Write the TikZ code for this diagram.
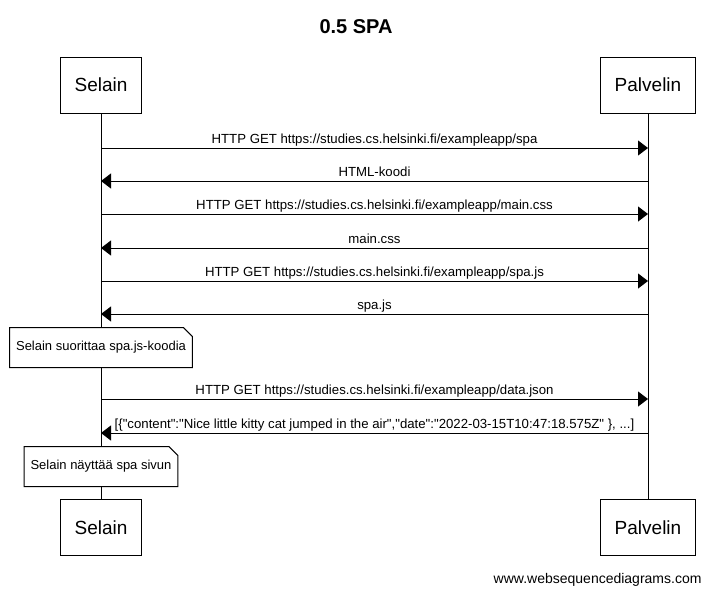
\documentclass[tikz,border=0pt]{standalone}
\usepackage{fontspec}
\setmainfont{Liberation Sans}[Ligatures=TeXOff]
\usetikzlibrary{arrows.meta}

\begin{document}
\begin{tikzpicture}[x=1pt,y=-1pt,line width=1pt,
   actor/.style={draw,fill=white,minimum height=56pt,inner xsep=14.5pt,font=\fontsize{19}{22}\selectfont},
   note/.style={fill=white,minimum height=39pt,inner xsep=6pt,font=\fontsize{13}{15}\selectfont},
   msg/.style={-{Triangle[length=10pt,width=15pt]}},
   lbl/.style={midway,anchor=base,yshift=5pt,inner sep=0pt,font=\fontsize{13.2}{15}\selectfont}]
   \useasboundingbox (0,0) rectangle (711,590);
   % Title
   \node[anchor=base,font=\fontsize{20}{24}\selectfont\bfseries] (title) at (356,33) {0.5 SPA};
   % Participants
   \node[actor] (selainTop)   at (101,85)    {Selain};
   \node[actor] (palvelinTop) at (648,85)    {Palvelin};
   \node[actor] (selainBot)   at (101,527.5) {Selain};
   \node[actor] (palvelinBot) at (648,527.5) {Palvelin};
   % Lifelines
   \draw (selainTop) -- (selainBot);
   \draw (palvelinTop) -- (palvelinBot);
   % Message ends
   \foreach \i/\y in {1/148,2/181,3/214,4/248,5/281,6/314,7/399,8/433} {
      \coordinate (s\i) at (101,\y);
      \coordinate (p\i) at (648,\y);
   }
   % Messages
   \draw[msg] (s1) -- node[lbl]{HTTP GET https://studies.cs.helsinki.fi/exampleapp/spa} (p1);
   \draw[msg] (p2) -- node[lbl]{HTML-koodi} (s2);
   \draw[msg] (s3) -- node[lbl]{HTTP GET https://studies.cs.helsinki.fi/exampleapp/main.css} (p3);
   \draw[msg] (p4) -- node[lbl]{main.css} (s4);
   \draw[msg] (s5) -- node[lbl]{HTTP GET https://studies.cs.helsinki.fi/exampleapp/spa.js} (p5);
   \draw[msg] (p6) -- node[lbl]{spa.js} (s6);
   \draw[msg] (s7) -- node[lbl]{HTTP GET https://studies.cs.helsinki.fi/exampleapp/data.json} (p7);
   \draw[msg] (p8) -- node[lbl]{[\{"content":"Nice little kitty cat jumped in the air","date":"2022-03-15T10:47:18.575Z" \}, ...]} (s8);
   % Notes
   \node[note] (note1) at (101,347.5) {Selain suorittaa spa.js-koodia};
   \draw (note1.north west) -- ([xshift=-9pt]note1.north east) -- ([yshift=-9pt]note1.north east)
      -- (note1.south east) -- (note1.south west) -- cycle;
   \node[note] (note2) at (101,466.5) {Selain näyttää spa sivun};
   \draw (note2.north west) -- ([xshift=-9pt]note2.north east) -- ([yshift=-9pt]note2.north east)
      -- (note2.south east) -- (note2.south west) -- cycle;
   % Footer
   \node[anchor=base east,inner sep=0pt,font=\fontsize{14}{16}\selectfont] (footer) at (702,583) {www.websequencediagrams.com};
\end{tikzpicture}
\end{document}
